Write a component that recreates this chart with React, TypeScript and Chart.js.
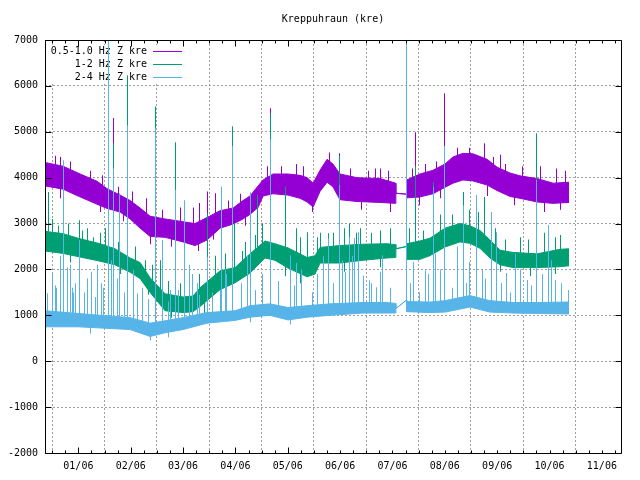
import { useEffect, useRef } from "react";
import { Chart, registerables } from "chart.js";

Chart.register(...registerables);

const FONT_FAMILY = "'DejaVu Sans Mono', 'Liberation Mono', monospace";
const TITLE = "Kreppuhraun (kre)";
const SERIES_NAMES = ["0.5-1.0 Hz Z kre", "1-2 Hz Z kre", "2-4 Hz Z kre"];
const SERIES_COLORS = ["#9400d3", "#009e73", "#56b4e9"];

// x values are days counted from 1 Jan 2006
const X_MIN = -14.4;
const X_MAX = 320.5;
const X_TICK_DAYS = [5, 35.44, 65.88, 96.31, 126.75, 157.19, 187.63, 218.06, 248.5, 278.94, 309.38];
const X_TICK_LABELS = ["01/06", "02/06", "03/06", "04/06", "05/06", "06/06", "07/06", "08/06", "09/06", "10/06", "11/06"];
const Y_MIN = -2000;
const Y_MAX = 7000;
const Y_STEP = 1000;

// 0.5-1.0 Hz: noise band (lower / upper envelope)
const bandDays05 = [-14.4, -3.9, 4.8, 15.9, 21.7, 29.3, 35.1, 40.9, 46.7, 55.4, 65.9, 72.8, 79.8, 87.4, 95.0, 100.7, 104.8, 109.5, 112.4, 118.2, 126.9, 133.9, 138.0, 141.5, 145.5, 149.6, 153.0, 157.1, 167.0, 180.4, 189.5, 189.6, 195.8, 195.9, 203.6, 211.2, 218.2, 222.8, 228.6, 234.4, 242.6, 248.4, 256.0, 261.8, 271.7, 281.0, 290.3];
const bandLow05 = [3820, 3750, 3600, 3420, 3330, 3250, 3100, 2900, 2720, 2700, 2600, 2520, 2640, 2900, 2990, 3100, 3200, 3350, 3600, 3650, 3620, 3550, 3470, 3360, 3700, 3900, 3800, 3520, 3480, 3460, 3440, 3660, 3640, 3560, 3580, 3650, 3790, 3880, 3950, 3930, 3840, 3720, 3590, 3550, 3470, 3440, 3460];
const bandHigh05 = [4330, 4250, 4100, 3920, 3760, 3620, 3500, 3340, 3160, 3100, 3040, 3000, 3130, 3280, 3340, 3500, 3600, 3820, 3950, 4080, 4080, 4050, 4000, 3880, 4160, 4400, 4300, 4080, 4000, 3980, 3880, 3660, 3640, 3950, 4080, 4160, 4300, 4450, 4530, 4520, 4400, 4230, 4100, 4040, 3980, 3880, 3900];
// peaks above the band
const spikeDays05 = [22.6, 25.5, 79.8, 85.0, 116.7, 156.8, 180.4, 201.3, 217.6, 240.9, 250.2, -8.5, -5.6, 0.2, 11.8, 18.8, 28.1, 36.2, 44.4, 53.7, 64.1, 72.2, 75.7, 92.1, 99.0, 114.7, 123.2, 131.6, 135.7, 151.3, 163.0, 173.4, 177.5, 185.1, 199.0, 206.6, 213.5, 225.2, 232.7, 246.1, 253.1, 263.0, 273.5, 282.8, 288.0];
const spikeTops05 = [7200, 5300, 3700, 3660, 5510, 4530, 4200, 4990, 5840, 4750, 4500, 4480, 4450, 4350, 4150, 4050, 3800, 3700, 3550, 3300, 3350, 3350, 3450, 3500, 3650, 4250, 4250, 4300, 4250, 4550, 4200, 4150, 4200, 4150, 4200, 4300, 4350, 4650, 4650, 4450, 4300, 4250, 4250, 4200, 4150];
// dips below the band
const dipDays05 = [-5.6, 17.6, 31.5, 46.7, 59.4, 74.6, 83.3, 102.2, 141.4, 157.1, 169.9, 186.2, 203.6, 215.3, 243.1, 258.8, 276.3, 285.1];
const dipLows05 = [3550, 3250, 3050, 2550, 2500, 2400, 2650, 2950, 3250, 3350, 3300, 3250, 3400, 3550, 3600, 3400, 3250, 3300];

// 1-2 Hz
const bandDays12 = [-14.4, -3.9, 4.8, 17.6, 26.3, 35.1, 40.9, 46.7, 55.4, 65.9, 71.7, 75.7, 87.4, 96.1, 104.8, 113.5, 119.3, 126.9, 138.0, 142.6, 145.5, 157.1, 170.5, 184.5, 189.5, 189.6, 195.8, 195.9, 203.6, 209.4, 218.2, 226.9, 232.7, 238.5, 244.3, 250.2, 257.7, 271.7, 285.1, 290.3];
const bandLow12 = [2400, 2350, 2280, 2180, 2100, 1940, 1800, 1500, 1100, 1060, 1080, 1190, 1560, 1710, 1920, 2250, 2200, 2030, 1840, 1900, 2140, 2140, 2200, 2250, 2260, 2450, 2500, 2220, 2220, 2300, 2490, 2600, 2570, 2460, 2250, 2100, 2040, 2040, 2060, 2080];
const bandHigh12 = [2830, 2780, 2680, 2560, 2450, 2250, 2150, 1820, 1470, 1400, 1420, 1600, 1970, 2040, 2340, 2620, 2560, 2470, 2260, 2300, 2480, 2520, 2550, 2560, 2540, 2450, 2500, 2560, 2620, 2680, 2900, 3000, 2950, 2850, 2640, 2420, 2370, 2340, 2440, 2450];
const spikeDays12 = [-12.6, 5.4, 10.6, 17.6, 22.6, 25.5, 33.6, 43.8, 50.1, 52.6, 61.2, 75.7, 79.8, 96.0, 94.9, 102.0, 109.4, 116.7, 125.2, 128.1, 133.9, 138.5, 145.5, 150.7, 156.8, 162.9, 168.8, 180.4, 201.3, 211.2, 217.6, 228.7, 232.7, 240.9, 245.0, 261.8, 271.4, 276.3, 278.1, 282.2, -10.3, -6.8, -1.0, 7.2, 13.6, 20.6, 28.1, 38.0, 47.9, 57.2, 64.1, 69.9, 84.5, 90.3, 100.2, 107.7, 111.8, 131.6, 144.3, 153.6, 160.0, 167.0, 175.7, 186.2, 197.8, 205.4, 215.3, 222.3, 237.4, 247.3, 253.1, 266.5, 285.1];
const spikeTops12 = [3690, 3070, 2900, 2800, 7200, 4750, 6230, 2200, 5550, 2200, 4770, 1900, 3220, 3000, 5120, 2600, 3620, 5400, 3800, 2350, 2700, 2810, 2800, 2790, 4470, 3000, 2900, 2850, 4250, 3900, 4450, 3690, 3300, 3580, 2900, 2700, 4970, 2800, 2960, 2700, 3100, 2950, 3000, 2850, 2700, 2900, 2600, 2500, 2100, 1750, 1700, 1800, 2300, 2350, 2400, 2750, 3000, 2900, 2700, 2800, 2900, 2800, 2800, 2900, 2900, 2850, 3200, 3200, 3250, 2900, 2650, 2650, 2750];
const dipDays12 = [0.2, 29.3, 45.5, 59.4, 78.6, 104.8, 125.2, 133.9, 160.0, 180.4, 250.2, 267.6, 282.2];
const dipLows12 = [2150, 1900, 1450, 950, 1050, 1750, 1850, 1700, 1950, 2050, 1950, 1850, 1900];

// 2-4 Hz
const bandDays24 = [-14.4, 4.8, 35.1, 46.7, 55.4, 65.9, 79.8, 96.1, 104.8, 116.4, 126.9, 138.0, 151.3, 170.5, 184.5, 189.5, 189.6, 195.8, 195.9, 209.4, 218.2, 232.7, 244.3, 257.7, 271.7, 290.3];
const bandLow24 = [750, 750, 690, 540, 620, 690, 830, 890, 960, 1000, 900, 960, 1000, 1050, 1050, 1050, 1150, 1330, 1080, 1060, 1070, 1180, 1070, 1050, 1040, 1030];
const bandHigh24 = [1100, 1040, 950, 830, 880, 950, 1060, 1100, 1210, 1250, 1170, 1210, 1250, 1280, 1280, 1260, 1150, 1330, 1300, 1290, 1320, 1430, 1320, 1280, 1280, 1290];
const spikeDays24 = [-13.2, -8.5, -5.1, -3.9, 0.2, 1.9, 3.1, 5.4, 10.6, 15.9, 18.2, 22.6, 25.5, 29.2, 33.6, 39.1, 50.1, 53.7, 58.3, 61.2, 66.5, 71.1, 74.0, 79.8, 87.4, 88.5, 91.4, 94.9, 104.8, 116.7, 128.1, 132.1, 150.7, 156.8, 158.3, 162.9, 165.8, 167.6, 170.5, 174.0, 178.6, 182.1, 196.0, 199.6, 206.6, 211.2, 212.4, 217.6, 228.7, 232.7, 236.2, 245.0, 248.4, 254.2, 258.9, 265.9, 271.4, 278.1, 282.2, 289.7, -10.3, -8.0, -5.6, -1.6, 1.3, 8.3, 12.4, 14.7, 19.4, 24.0, 27.5, 31.6, 36.8, 42.0, 45.5, 57.2, 63.0, 69.9, 75.7, 82.7, 90.8, 99.6, 103.1, 107.7, 111.8, 121.1, 130.4, 135.0, 141.4, 144.3, 147.8, 153.6, 160.6, 164.1, 175.7, 180.4, 186.2, 198.4, 203.6, 208.3, 215.3, 222.3, 225.2, 230.4, 239.7, 242.0, 251.3, 256.5, 261.8, 268.2, 274.6, 279.9, 285.7];
const spikeTops24 = [1480, 1650, 1750, 4380, 2100, 1500, 1700, 2640, 1800, 2100, 1700, 7200, 4200, 3660, 5140, 1480, 5080, 2640, 1550, 3730, 3510, 1900, 1700, 2270, 1550, 3800, 1900, 4690, 3680, 4840, 2310, 2140, 2680, 3840, 2200, 2700, 2680, 2810, 1870, 1765, 1610, 2310, 7200, 2160, 1980, 3800, 2350, 4690, 3400, 2160, 3620, 3250, 2810, 1920, 2350, 1770, 3950, 2960, 1770, 1550, 1900, 1600, 2300, 2050, 1600, 1500, 1950, 1400, 1600, 2200, 1800, 1500, 2000, 1600, 1350, 1300, 1550, 2100, 1450, 1500, 2000, 1700, 2300, 1550, 1900, 1750, 1650, 2000, 1500, 1900, 2300, 1700, 1950, 2300, 1700, 1950, 1600, 1700, 1500, 1900, 2000, 1600, 2500, 1700, 2000, 1800, 1700, 1500, 2000, 1650, 1900, 2200, 1700];
const dipDays24 = [11.8, 46.7, 57.2, 104.8, 128.1];
const dipLows24 = [600, 450, 520, 850, 800];

type Pt = { x: number; y: number };

function toPoints(days: number[], values: number[]): Pt[] {
  return days.map((d, i) => ({ x: d, y: values[i] }));
}

// a spike leaves the band from its middle
function bandMid(days: number[], lo: number[], hi: number[], d: number): number {
  let i = 0;
  while (i < days.length - 2 && days[i + 1] < d) i++;
  const t = Math.min(1, Math.max(0, (d - days[i]) / (days[i + 1] - days[i])));
  const a = (lo[i] + hi[i]) / 2;
  const b = (lo[i + 1] + hi[i + 1]) / 2;
  return a + (b - a) * t;
}

function spikeBars(ends: number[][], days: number[], lo: number[], hi: number[]) {
  const out: { x: number; y: number[] }[] = [];
  ends.forEach(([sd, sv]) => {
    sd.forEach((d: number, i: number) => {
      out.push({ x: d, y: [bandMid(days, lo, hi, d), (sv as any)[i]] });
    });
  });
  return out;
}

const SERIES = [
  { days: bandDays05, lo: bandLow05, hi: bandHigh05, spikes: [[spikeDays05, spikeTops05], [dipDays05, dipLows05]] },
  { days: bandDays12, lo: bandLow12, hi: bandHigh12, spikes: [[spikeDays12, spikeTops12], [dipDays12, dipLows12]] },
  { days: bandDays24, lo: bandLow24, hi: bandHigh24, spikes: [[spikeDays24, spikeTops24], [dipDays24, dipLows24]] },
];

const framePlugin = {
  id: "gnuplotFrame",
  afterDatasetsUpdate(chart: any) {
    // keep 1px spikes on whole pixel columns
    chart.data.datasets.forEach((ds: any, i: number) => {
      if (ds.type !== "bar") return;
      chart.getDatasetMeta(i).data.forEach((el: any) => {
        el.x = Math.floor(el.x) + 0.5;
      });
    });
  },
  beforeDatasetsDraw(chart: any) {
    const ctx = chart.ctx as CanvasRenderingContext2D;
    const area = chart.chartArea;
    ctx.save();
    // key, opaque behind its entries
    ctx.fillStyle = "#ffffff";
    ctx.fillRect(area.left + 2, area.top + 5, 140, 38);
    ctx.font = `10px ${FONT_FAMILY}`;
    ctx.textAlign = "right";
    ctx.textBaseline = "middle";
    SERIES_NAMES.forEach((name, i) => {
      const y = area.top + 11 + i * 13;
      ctx.fillStyle = "#000000";
      ctx.fillText(name, area.left + 102, y + 0.5);
      ctx.fillStyle = SERIES_COLORS[i];
      ctx.fillRect(area.left + 108, y, 29, 1);
    });
    ctx.restore();
  },
  afterDraw(chart: any) {
    const ctx = chart.ctx as CanvasRenderingContext2D;
    const area = chart.chartArea;
    const xs = chart.scales.x;
    const ys = chart.scales.y;
    const L = area.left + 0.5;
    const R = area.right + 0.5;
    const T = area.top + 0.5;
    const B = area.bottom + 0.5;
    ctx.save();
    ctx.strokeStyle = "#000000";
    ctx.lineWidth = 1;
    ctx.beginPath();
    ctx.rect(L, T, R - L, B - T);
    // x ticks, major and minor, mirrored on top
    const step = X_TICK_DAYS[1] - X_TICK_DAYS[0];
    const minor = step / 4;
    let start = X_TICK_DAYS[0];
    while (start - minor >= X_MIN) start -= minor;
    for (let v = start; v <= X_MAX + 1e-6; v += minor) {
      const px = Math.round(xs.getPixelForValue(v)) + 0.5;
      const isMajor = X_TICK_DAYS.some((t) => Math.abs(t - v) < 0.01);
      const len = isMajor ? 6 : 3;
      ctx.moveTo(px, B);
      ctx.lineTo(px, B - len);
      ctx.moveTo(px, T);
      ctx.lineTo(px, T + len);
    }
    for (let v = Y_MIN; v <= Y_MAX; v += Y_STEP) {
      const py = Math.round(ys.getPixelForValue(v)) + 0.5;
      ctx.moveTo(L, py);
      ctx.lineTo(L + 6, py);
      ctx.moveTo(R, py);
      ctx.lineTo(R - 6, py);
    }
    ctx.stroke();
    // title
    ctx.fillStyle = "#000000";
    ctx.font = `10px ${FONT_FAMILY}`;
    ctx.textAlign = "center";
    ctx.textBaseline = "middle";
    ctx.fillText(TITLE, (area.left + area.right) / 2, 19.5);
    ctx.restore();
  },
};

export default function App() {
  const canvasRef = useRef<HTMLCanvasElement | null>(null);

  useEffect(() => {
    const canvas = canvasRef.current;
    if (!canvas) return;
    const datasets: any[] = [];
    SERIES.forEach((s, i) => {
      const color = SERIES_COLORS[i];
      const order = 2 - i;
      datasets.push({
        type: "bar",
        label: SERIES_NAMES[i] + " spikes",
        data: spikeBars(s.spikes as any, s.days, s.lo, s.hi),
        backgroundColor: color,
        borderWidth: 0,
        barThickness: 1,
        grouped: false,
        inflateAmount: 0,
        order,
      });
      datasets.push({
        type: "line",
        label: SERIES_NAMES[i] + " low",
        data: toPoints(s.days, s.lo),
        borderColor: color,
        borderWidth: 1,
        pointRadius: 0,
        tension: 0,
        fill: false,
        order,
      });
      datasets.push({
        type: "line",
        label: SERIES_NAMES[i],
        data: toPoints(s.days, s.hi),
        borderColor: color,
        backgroundColor: color,
        borderWidth: 1,
        pointRadius: 0,
        tension: 0,
        fill: "-1",
        order,
      });
    });

    const chart = new Chart(canvas, {
      type: "line",
      data: { datasets },
      options: {
        animation: false,
        responsive: false,
        devicePixelRatio: 1,
        events: [],
        layout: { padding: { top: 40, right: 19, left: 0, bottom: 0 } },
        plugins: {
          legend: { display: false },
          title: { display: false },
          tooltip: { enabled: false },
        },
        scales: {
          x: {
            type: "linear",
            min: X_MIN,
            max: X_MAX,
            offset: false,
            afterBuildTicks: (scale: any) => {
              scale.ticks = X_TICK_DAYS.map((v) => ({ value: v }));
            },
            afterFit: (scale: any) => {
              scale.height = 27;
            },
            ticks: {
              autoSkip: false,
              maxRotation: 0,
              padding: 7,
              color: "#000000",
              font: { family: FONT_FAMILY, size: 10 },
              callback: (_v: any, idx: number) => X_TICK_LABELS[idx],
            },
            grid: { color: "#a0a0a0", lineWidth: 1, drawTicks: false },
            border: { display: false, dash: [2, 2] },
          },
          y: {
            type: "linear",
            min: Y_MIN,
            max: Y_MAX,
            afterFit: (scale: any) => {
              scale.width = 45;
            },
            ticks: {
              stepSize: Y_STEP,
              padding: 7,
              color: "#000000",
              font: { family: FONT_FAMILY, size: 10 },
              callback: (v: any) => String(v),
            },
            grid: { color: "#a0a0a0", lineWidth: 1, drawTicks: false },
            border: { display: false, dash: [2, 2] },
          },
        },
      },
      plugins: [framePlugin],
    } as any);

    return () => chart.destroy();
  }, []);

  return (
    <div style={{ position: "fixed", left: 0, top: 0, width: 640, height: 480, background: "#ffffff" }}>
      <canvas ref={canvasRef} width={640} height={480} />
    </div>
  );
}
